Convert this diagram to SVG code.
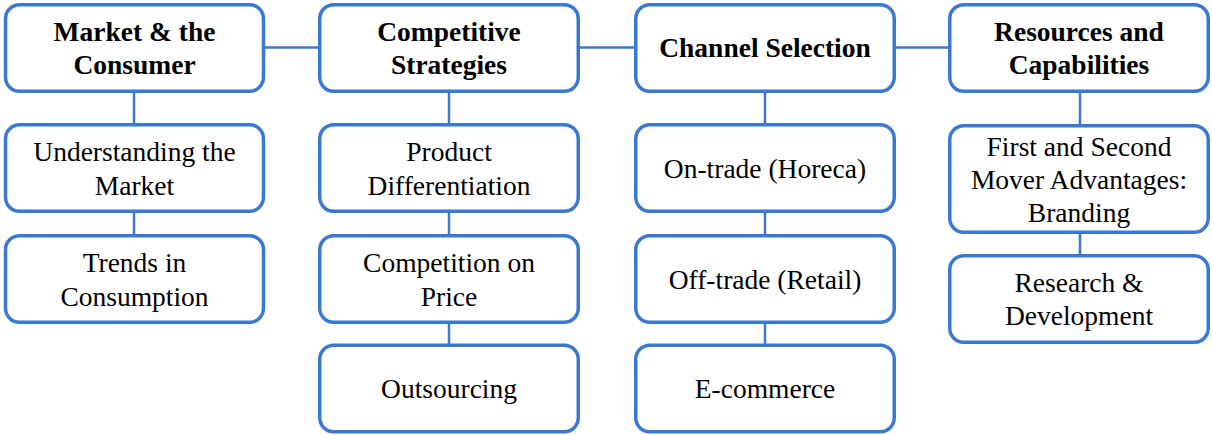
<svg xmlns="http://www.w3.org/2000/svg" width="1212" height="435" viewBox="0 0 1212 435">
  <style>
    .box { fill: #ffffff; stroke: #3a78d2; stroke-width: 3.5; }
    .link { stroke: #3a78d2; stroke-width: 2.5; fill: none; }
    text { font-family: "Liberation Serif", "Times New Roman", serif; font-size: 27.5px; fill: #000000; text-anchor: middle; }
    .head { font-weight: bold; }
  </style>

  <!-- connectors -->
  <g id="connectors">
    <line class="link" x1="265" y1="47.5" x2="319" y2="47.5"/>
    <line class="link" x1="580" y1="47.5" x2="634" y2="47.5"/>
    <line class="link" x1="896" y1="47.5" x2="948" y2="47.5"/>
    <line class="link" x1="134" y1="93" x2="134" y2="124"/>
    <line class="link" x1="134" y1="213" x2="134" y2="235"/>
    <line class="link" x1="449" y1="93" x2="449" y2="124"/>
    <line class="link" x1="449" y1="213" x2="449" y2="235"/>
    <line class="link" x1="449" y1="323" x2="449" y2="345"/>
    <line class="link" x1="765" y1="93" x2="765" y2="124"/>
    <line class="link" x1="765" y1="213" x2="765" y2="235"/>
    <line class="link" x1="765" y1="323" x2="765" y2="345"/>
    <line class="link" x1="1080" y1="93" x2="1080" y2="125"/>
    <line class="link" x1="1080" y1="234" x2="1080" y2="255"/>
  </g>

  <!-- column 1 -->
  <g id="market-consumer">
    <rect class="box" x="5.5" y="4.75" width="258" height="86.5" rx="14"/>
    <text class="head" x="134.5" y="40.5">Market &amp; the</text>
    <text class="head" x="134.5" y="73.5">Consumer</text>
  </g>
  <g id="understanding-market">
    <rect class="box" x="5.5" y="124.75" width="258" height="86.5" rx="14"/>
    <text x="134.5" y="161">Understanding the</text>
    <text x="134.5" y="194.5">Market</text>
  </g>
  <g id="trends-consumption">
    <rect class="box" x="5.5" y="235.75" width="258" height="86.5" rx="14"/>
    <text x="134.5" y="272">Trends in</text>
    <text x="134.5" y="305.5">Consumption</text>
  </g>

  <!-- column 2 -->
  <g id="competitive-strategies">
    <rect class="box" x="319.75" y="4.75" width="258.5" height="86.5" rx="14"/>
    <text class="head" x="449" y="40.5">Competitive</text>
    <text class="head" x="449" y="73.5">Strategies</text>
  </g>
  <g id="product-differentiation">
    <rect class="box" x="319.75" y="124.75" width="258.5" height="86.5" rx="14"/>
    <text x="449" y="161">Product</text>
    <text x="449" y="194.5">Differentiation</text>
  </g>
  <g id="competition-price">
    <rect class="box" x="319.75" y="235.75" width="258.5" height="86.5" rx="14"/>
    <text x="449" y="272">Competition on</text>
    <text x="449" y="305.5">Price</text>
  </g>
  <g id="outsourcing">
    <rect class="box" x="319.75" y="345.25" width="258.5" height="86.5" rx="14"/>
    <text x="449" y="398">Outsourcing</text>
  </g>

  <!-- column 3 -->
  <g id="channel-selection">
    <rect class="box" x="635.75" y="4.75" width="258.5" height="86.5" rx="14"/>
    <text class="head" x="765" y="57">Channel Selection</text>
  </g>
  <g id="on-trade">
    <rect class="box" x="635.75" y="124.75" width="258.5" height="86.5" rx="14"/>
    <text x="765" y="177.5">On-trade (Horeca)</text>
  </g>
  <g id="off-trade">
    <rect class="box" x="635.75" y="235.75" width="258.5" height="86.5" rx="14"/>
    <text x="765" y="288.5">Off-trade (Retail)</text>
  </g>
  <g id="e-commerce">
    <rect class="box" x="635.75" y="345.25" width="258.5" height="86.5" rx="14"/>
    <text x="765" y="398">E-commerce</text>
  </g>

  <!-- column 4 -->
  <g id="resources-capabilities">
    <rect class="box" x="949.75" y="4.75" width="258.5" height="86.5" rx="14"/>
    <text class="head" x="1079" y="40.5">Resources and</text>
    <text class="head" x="1079" y="73.5">Capabilities</text>
  </g>
  <g id="mover-advantages">
    <rect class="box" x="949.75" y="125.75" width="258.5" height="106.5" rx="14"/>
    <text x="1079" y="155.5">First and Second</text>
    <text x="1079" y="189">Mover Advantages:</text>
    <text x="1079" y="222">Branding</text>
  </g>
  <g id="research-development">
    <rect class="box" x="949.75" y="255.75" width="258.5" height="86.5" rx="14"/>
    <text x="1079" y="291.5">Research &amp;</text>
    <text x="1079" y="324.5">Development</text>
  </g>
</svg>
